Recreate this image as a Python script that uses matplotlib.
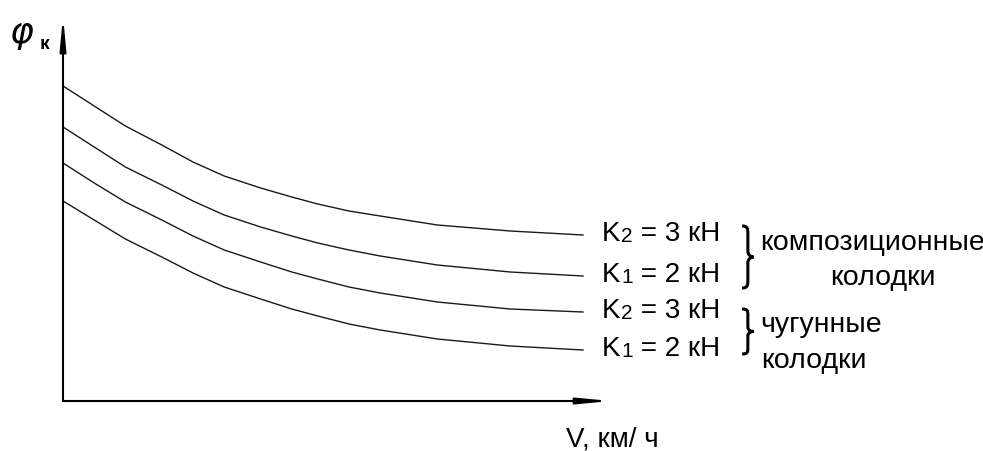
import numpy as np
import matplotlib
matplotlib.use("Agg")
import matplotlib.pyplot as plt
from matplotlib.path import Path
from matplotlib.patches import PathPatch

plt.rcParams['font.family'] = ['Liberation Sans', 'DejaVu Sans']

# speed, km/h (relative scale)
speed = [0, 6, 12, 19, 25, 31, 38, 44, 49, 55, 61, 72, 86, 100]

# friction coefficient curves, top to bottom
comp_k2 = [0.315, 0.295, 0.275, 0.256, 0.239, 0.225, 0.213, 0.204, 0.197,
           0.190, 0.185, 0.176, 0.170, 0.166]
comp_k1 = [0.274, 0.254, 0.234, 0.216, 0.200, 0.186, 0.174, 0.165, 0.158,
           0.151, 0.145, 0.136, 0.129, 0.125]
iron_k2 = [0.238, 0.218, 0.199, 0.181, 0.165, 0.151, 0.139, 0.129, 0.122,
           0.114, 0.108, 0.099, 0.092, 0.089]
iron_k1 = [0.200, 0.181, 0.162, 0.144, 0.128, 0.114, 0.102, 0.092, 0.085,
           0.077, 0.071, 0.062, 0.055, 0.051]

curves = [comp_k2, comp_k1, iron_k2, iron_k1]
k_index = ['2', '1', '2', '1']
k_force = [' = 3 кН', ' = 2 кН', ' = 3 кН', ' = 2 кН']


def brace(ax, x0, x1, ytop, ybot, lw=2.2):
    # curly brace opening to the left, tip pointing right
    ym = (ytop + ybot) / 2
    h = (ytop - ybot) / 2
    xm = (x0 + x1) / 2
    xt = x0 + 0.8 * (x1 - x0)
    pts = [
        (x0, ym + h), (xm, ym + h), (xm, ym + 0.9 * h), (xm, ym + 0.75 * h),
        (xm, ym + 0.2 * h),
        (xm, ym + 0.05 * h), (xt, ym), (x1, ym),
        (xt, ym), (xm, ym - 0.05 * h), (xm, ym - 0.2 * h),
        (xm, ym - 0.75 * h),
        (xm, ym - 0.9 * h), (xm, ym - h), (x0, ym - h),
    ]
    codes = [Path.MOVETO, Path.CURVE4, Path.CURVE4, Path.CURVE4,
             Path.LINETO,
             Path.CURVE4, Path.CURVE4, Path.CURVE4,
             Path.CURVE4, Path.CURVE4, Path.CURVE4,
             Path.LINETO,
             Path.CURVE4, Path.CURVE4, Path.CURVE4]
    ax.add_patch(PathPatch(Path(pts, codes), fill=False, lw=lw,
                           color='black', clip_on=False))


def k_label(ax, x, y, idx, rest, size=20):
    # "K" with a small index digit sitting on the baseline
    t = ax.text(x, y, 'K', fontsize=size, va='center', ha='left')
    d = ax.annotate(idx, xy=(1, 0), xycoords=t, xytext=(0.6, 0.8),
                    textcoords='offset points', fontsize=size * 0.75,
                    va='bottom', ha='left')
    ax.annotate(rest, xy=(1, 0), xycoords=d, xytext=(0, -0.8),
                textcoords='offset points', fontsize=size,
                va='bottom', ha='left')


fig = plt.figure(figsize=(9.83, 4.52), dpi=100)
ax = fig.add_axes([63 / 983, 50 / 452, 520 / 983, 400 / 452])
ax.set_xlim(0, 100)
ax.set_ylim(0, 0.4)
ax.axis('off')

for ys in curves:
    ax.plot(speed, ys, color='#1a1a1a', lw=1.0, clip_on=False)

# axes with arrows
arrow = dict(arrowstyle='-|>,head_length=1.9,head_width=0.18',
             lw=1.5, color='black', shrinkA=0, shrinkB=0)
ax.annotate('', xy=(105.4, 0), xytext=(0, 0), arrowprops=arrow,
            annotation_clip=False)
ax.annotate('', xy=(0, 0.385), xytext=(0, 0), arrowprops=arrow,
            annotation_clip=False)

ax.text(-10.3, 0.352, 'φ', fontsize=26, style='italic', va='bottom',
        ha='left', family=['DejaVu Sans'])
ax.text(-4.5, 0.353, 'к', fontsize=14, fontweight='bold', va='baseline',
        ha='left')
ax.text(96.8, -0.045, 'V, км/ ч', fontsize=20, va='baseline', ha='left')

# curve labels at the right ends
for ys, idx, rest in zip(curves, k_index, k_force):
    k_label(ax, 103.6, ys[-1] + 0.002, idx, rest)

# group braces and captions
brace(ax, 130.6, 132.8, comp_k2[-1] + 0.009, comp_k1[-1] - 0.012)
brace(ax, 130.6, 132.8, iron_k2[-1] + 0.003, iron_k1[-1] - 0.004)

ax.text(134.0, 0.152, 'композиционные', fontsize=20.5, va='baseline',
        ha='left')
ax.text(147.5, 0.117, 'колодки', fontsize=20.5, va='baseline', ha='left')
ax.text(134.0, 0.070, 'чугунные', fontsize=20.5, va='baseline', ha='left')
ax.text(134.3, 0.034, 'колодки', fontsize=20.5, va='baseline', ha='left')

fig.savefig('out.png', dpi=100, facecolor='white')
